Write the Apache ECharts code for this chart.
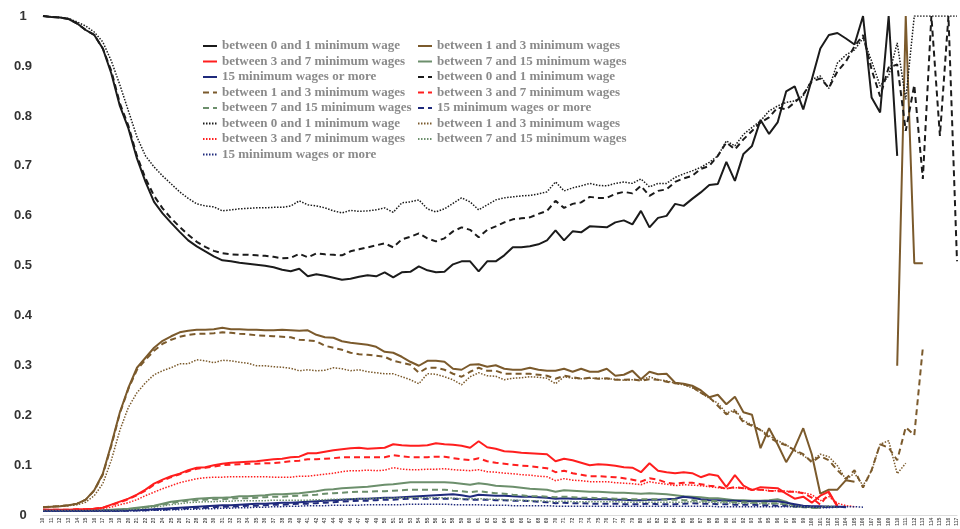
<!DOCTYPE html>
<html>
<head>
<meta charset="utf-8">
<title>Share of workers by wage bracket and age</title>
<script src="https://cdn.jsdelivr.net/npm/echarts@6/dist/echarts.min.js"></script>
<style>
  html, body { margin: 0; padding: 0; background: #fff; }
  #chart { width: 960px; height: 529px; }
</style>
</head>
<body>
<div id="chart"></div>
<script>
// ages on the category axis
const ages = ['10','11','12','13','14','15','16','17','18','19','20','21','22','23','24','25','26','27','28','29',
  '30','31','32','33','34','35','36','37','38','39','40','41','42','43','44','45','46','47','48','49',
  '50','51','52','53','54','55','56','57','58','59','60','61','62','63','64','65','66','67','68','69',
  '70','71','72','73','74','75','76','77','78','79','80','81','82','83','84','85','86','87','88','89',
  '90','91','92','93','94','95','96','97','98','99','100','101','102','103','104','105','106','107','108','109',
  '110','111','112','113','114','115','116','117'];

const yTicks = [0, 0.1, 0.2, 0.3, 0.4, 0.5, 0.6, 0.7, 0.8, 0.9, 1];

const bracketNames = ['between 0 and 1 minimum wage', 'between 1 and 3 minimum wages',
  'between 3 and 7 minimum wages', 'between 7 and 15 minimum wages', '15 minimum wages or more'];

// ---------- solid lines ----------
const solid0to1 = [1.0,0.998,0.997,0.994,0.985,0.972,0.962,0.935,0.885,0.82,
  0.775,0.715,0.668,0.628,0.605,0.586,0.568,0.551,0.539,0.529,
  0.519,0.511,0.509,0.506,0.504,0.502,0.5,0.497,0.492,0.489,
  0.494,0.479,0.483,0.48,0.476,0.472,0.474,0.478,0.481,0.479,
  0.487,0.477,0.487,0.488,0.499,0.491,0.487,0.488,0.503,0.509,
  0.509,0.489,0.509,0.509,0.521,0.537,0.537,0.539,0.543,0.551,
  0.571,0.551,0.569,0.567,0.579,0.578,0.577,0.587,0.591,0.583,
  0.610,0.577,0.596,0.600,0.624,0.620,0.634,0.647,0.662,0.664,
  0.708,0.670,0.724,0.740,0.792,0.764,0.787,0.849,0.859,0.813,
  0.873,0.935,0.962,0.966,0.955,0.943,1.0,0.837,0.807,1.0,
  0.72,null,null,null,null,null,null,null];
const solid1to3 = [0.017,0.018,0.019,0.021,0.024,0.032,0.051,0.084,0.143,0.207,
  0.256,0.296,0.316,0.336,0.350,0.359,0.367,0.370,0.372,0.372,
  0.373,0.376,0.373,0.373,0.372,0.372,0.371,0.371,0.372,0.371,
  0.370,0.371,0.362,0.357,0.356,0.349,0.346,0.344,0.342,0.338,
  0.328,0.326,0.318,0.308,0.300,0.310,0.310,0.308,0.294,0.292,
  0.302,0.303,0.298,0.301,0.294,0.292,0.292,0.296,0.292,0.290,
  0.290,0.294,0.288,0.294,0.288,0.288,0.294,0.280,0.282,0.290,
  0.273,0.288,0.283,0.284,0.266,0.264,0.260,0.251,0.237,0.242,
  0.223,0.238,0.207,0.202,0.135,0.175,0.143,0.107,0.136,0.175,
  0.123,0.044,0.052,0.052,0.071,0.068,null,null,null,null,
  0.30,1.0,0.505,0.505,null,null,null,null];
const solid3to7 = [0.012,0.012,0.012,0.012,0.013,0.013,0.014,0.016,0.022,0.028,
  0.034,0.042,0.052,0.064,0.072,0.079,0.084,0.091,0.096,0.097,
  0.101,0.104,0.106,0.107,0.108,0.109,0.111,0.113,0.114,0.117,
  0.118,0.125,0.125,0.128,0.131,0.133,0.135,0.136,0.134,0.135,
  0.136,0.143,0.141,0.140,0.140,0.141,0.145,0.143,0.142,0.140,
  0.136,0.149,0.137,0.134,0.129,0.128,0.126,0.125,0.124,0.123,
  0.109,0.114,0.111,0.106,0.101,0.103,0.102,0.100,0.097,0.096,
  0.087,0.105,0.090,0.087,0.085,0.087,0.085,0.077,0.083,0.080,
  0.057,0.081,0.060,0.051,0.057,0.056,0.055,0.044,0.034,0.038,
  0.026,0.040,0.048,0.018,null,null,null,null,null,null,
  null,null,null,null,null,null,null,null];
const solid7to15 = [0.010,0.010,0.010,0.010,0.010,0.010,0.011,0.011,0.012,0.013,
  0.014,0.016,0.018,0.020,0.024,0.028,0.030,0.032,0.034,0.035,
  0.036,0.036,0.037,0.039,0.039,0.040,0.041,0.043,0.043,0.044,
  0.045,0.047,0.049,0.052,0.053,0.055,0.056,0.057,0.058,0.060,
  0.062,0.063,0.065,0.067,0.067,0.067,0.067,0.067,0.066,0.064,
  0.062,0.065,0.063,0.060,0.059,0.058,0.056,0.054,0.053,0.052,
  0.048,0.051,0.050,0.049,0.048,0.048,0.047,0.046,0.046,0.045,
  0.044,0.045,0.044,0.043,0.041,0.039,0.038,0.037,0.035,0.035,
  0.033,0.031,0.031,0.030,0.030,0.031,0.033,0.028,0.019,0.018,
  0.017,0.016,null,null,null,null,null,null,null,null,
  null,null,null,null,null,null,null,null];
const solid15plus = [0.010,0.010,0.010,0.010,0.010,0.010,0.010,0.010,0.010,0.010,
  0.011,0.011,0.012,0.013,0.014,0.015,0.016,0.017,0.018,0.019,
  0.020,0.021,0.021,0.022,0.023,0.024,0.024,0.025,0.026,0.026,
  0.027,0.028,0.029,0.030,0.031,0.032,0.033,0.034,0.034,0.035,
  0.036,0.036,0.037,0.038,0.039,0.040,0.041,0.042,0.043,0.041,
  0.038,0.042,0.041,0.040,0.040,0.039,0.038,0.038,0.037,0.036,
  0.034,0.035,0.034,0.034,0.033,0.033,0.033,0.032,0.032,0.031,
  0.031,0.032,0.032,0.033,0.034,0.038,0.036,0.033,0.031,0.031,
  0.030,0.030,0.029,0.029,0.029,0.029,0.029,0.026,0.023,0.020,
  0.019,0.019,0.018,0.018,0.018,null,null,null,null,null,
  null,null,null,null,null,null,null,null];

// ---------- dashed lines ----------
const dashed0to1 = [1.0,0.998,0.997,0.994,0.985,0.972,0.962,0.935,0.89,0.825,
  0.78,0.72,0.675,0.64,0.615,0.595,0.578,0.562,0.548,0.538,
  0.53,0.525,0.523,0.522,0.522,0.521,0.52,0.518,0.515,0.516,
  0.524,0.517,0.525,0.523,0.522,0.521,0.529,0.533,0.537,0.541,
  0.545,0.537,0.553,0.558,0.565,0.555,0.549,0.555,0.569,0.577,
  0.572,0.557,0.572,0.579,0.587,0.593,0.595,0.597,0.604,0.610,
  0.630,0.616,0.624,0.627,0.638,0.636,0.636,0.644,0.648,0.645,
  0.660,0.640,0.650,0.653,0.668,0.675,0.680,0.694,0.700,0.720,
  0.747,0.733,0.753,0.770,0.787,0.797,0.817,0.813,0.827,0.843,
  0.869,0.875,0.856,0.889,0.909,0.939,0.962,0.893,0.839,0.897,
  0.903,0.770,0.862,0.674,1.0,0.760,1.0,0.509];
const dashed1to3 = [0.017,0.018,0.019,0.021,0.024,0.032,0.050,0.082,0.140,0.205,
  0.254,0.292,0.312,0.330,0.344,0.352,0.358,0.362,0.364,0.364,
  0.365,0.367,0.366,0.364,0.363,0.361,0.360,0.359,0.358,0.357,
  0.352,0.351,0.349,0.340,0.336,0.332,0.326,0.323,0.322,0.320,
  0.318,0.310,0.306,0.302,0.286,0.296,0.296,0.292,0.284,0.278,
  0.288,0.296,0.290,0.290,0.284,0.284,0.284,0.284,0.282,0.280,
  0.274,0.280,0.277,0.274,0.276,0.274,0.275,0.272,0.272,0.273,
  0.270,0.273,0.272,0.268,0.265,0.263,0.258,0.246,0.237,0.220,
  0.203,0.209,0.187,0.180,0.171,0.157,0.147,0.141,0.131,0.123,
  0.107,0.119,0.111,0.091,0.074,0.091,0.056,0.091,0.143,0.136,
  0.111,0.177,0.161,0.336,null,null,null,null];
const dashed3to7 = [0.012,0.012,0.012,0.012,0.013,0.013,0.014,0.016,0.021,0.027,
  0.033,0.041,0.050,0.062,0.070,0.077,0.083,0.089,0.094,0.096,
  0.098,0.101,0.102,0.103,0.104,0.104,0.105,0.105,0.107,0.109,
  0.110,0.113,0.113,0.114,0.115,0.117,0.117,0.117,0.117,0.117,
  0.117,0.121,0.119,0.117,0.117,0.117,0.118,0.118,0.115,0.113,
  0.111,0.115,0.109,0.106,0.104,0.102,0.100,0.099,0.097,0.095,
  0.087,0.090,0.085,0.082,0.079,0.079,0.078,0.077,0.075,0.072,
  0.068,0.075,0.072,0.066,0.064,0.066,0.066,0.063,0.060,0.058,
  0.054,0.057,0.055,0.052,0.052,0.050,0.049,0.048,0.048,0.045,
  0.036,0.022,0.045,0.020,null,null,null,null,null,null,
  null,null,null,null,null,null,null,null];
const dashed7to15 = [0.010,0.010,0.010,0.010,0.010,0.010,0.010,0.011,0.011,0.012,
  0.013,0.015,0.017,0.019,0.022,0.025,0.028,0.030,0.031,0.032,
  0.033,0.033,0.034,0.035,0.035,0.036,0.037,0.038,0.038,0.039,
  0.040,0.041,0.042,0.044,0.045,0.046,0.047,0.048,0.048,0.049,
  0.049,0.050,0.051,0.052,0.052,0.052,0.052,0.052,0.050,0.049,
  0.047,0.049,0.047,0.045,0.044,0.042,0.041,0.039,0.039,0.038,
  0.037,0.038,0.037,0.036,0.036,0.035,0.035,0.034,0.034,0.033,
  0.033,0.033,0.033,0.032,0.032,0.031,0.031,0.030,0.030,0.029,
  0.028,0.027,0.027,0.026,0.026,0.025,0.025,0.022,0.018,0.017,
  0.016,0.015,null,null,null,null,null,null,null,null,
  null,null,null,null,null,null,null,null];
const dashed15plus = [0.010,0.010,0.010,0.010,0.010,0.010,0.010,0.010,0.010,0.010,
  0.010,0.011,0.011,0.012,0.012,0.013,0.014,0.015,0.016,0.016,
  0.017,0.018,0.018,0.019,0.020,0.020,0.021,0.022,0.022,0.023,
  0.024,0.024,0.025,0.026,0.027,0.028,0.029,0.030,0.030,0.031,
  0.032,0.032,0.033,0.034,0.034,0.034,0.034,0.034,0.034,0.033,
  0.032,0.032,0.032,0.031,0.031,0.030,0.030,0.029,0.028,0.027,
  0.025,0.026,0.025,0.025,0.024,0.024,0.024,0.024,0.023,0.023,
  0.023,0.024,0.023,0.023,0.023,0.024,0.025,0.024,0.024,0.023,
  0.023,0.022,0.022,0.022,0.021,0.021,0.020,0.020,0.019,0.018,
  0.018,0.017,0.018,0.018,0.017,null,null,null,null,null,
  null,null,null,null,null,null,null,null];

// ---------- dotted lines ----------
const dotted0to1 = [1.0,0.998,0.997,0.995,0.988,0.980,0.968,0.948,0.910,0.862,
  0.810,0.758,0.720,0.698,0.680,0.664,0.648,0.635,0.624,0.620,
  0.618,0.610,0.612,0.614,0.615,0.616,0.616,0.617,0.617,0.620,
  0.630,0.622,0.620,0.616,0.610,0.606,0.611,0.609,0.610,0.612,
  0.616,0.607,0.626,0.628,0.632,0.614,0.608,0.614,0.625,0.636,
  0.628,0.612,0.622,0.632,0.636,0.638,0.640,0.641,0.644,0.648,
  0.668,0.650,0.656,0.660,0.665,0.661,0.660,0.665,0.668,0.665,
  0.674,0.658,0.665,0.665,0.677,0.684,0.690,0.697,0.707,0.720,
  0.750,0.740,0.763,0.777,0.790,0.810,0.820,0.827,0.830,0.840,
  0.873,0.880,0.855,0.906,0.922,0.932,0.956,0.910,0.860,0.880,
  0.946,0.833,1.0,1.0,1.0,1.0,1.0,1.0];
const dotted1to3 = [0.017,0.018,0.019,0.020,0.022,0.027,0.040,0.064,0.111,0.171,
  0.217,0.246,0.266,0.282,0.290,0.296,0.304,0.304,0.312,0.310,
  0.306,0.311,0.310,0.307,0.305,0.300,0.300,0.298,0.297,0.295,
  0.290,0.292,0.290,0.291,0.296,0.294,0.290,0.292,0.288,0.286,
  0.284,0.284,0.278,0.272,0.264,0.284,0.283,0.278,0.272,0.262,
  0.278,0.286,0.280,0.279,0.272,0.275,0.276,0.278,0.277,0.275,
  0.264,0.278,0.275,0.274,0.275,0.275,0.274,0.273,0.271,0.272,
  0.271,0.278,0.272,0.270,0.265,0.262,0.256,0.246,0.235,0.225,
  0.205,0.212,0.190,0.182,0.172,0.160,0.150,0.142,0.130,0.120,
  0.110,0.123,0.118,0.100,0.072,0.085,0.060,0.090,0.143,0.150,
  0.084,0.105,null,null,null,null,null,null];
const dotted3to7 = [0.011,0.011,0.011,0.011,0.012,0.012,0.013,0.014,0.017,0.022,
  0.026,0.032,0.040,0.047,0.054,0.060,0.066,0.070,0.074,0.076,
  0.077,0.077,0.078,0.078,0.078,0.078,0.078,0.077,0.077,0.077,
  0.079,0.079,0.081,0.083,0.085,0.088,0.090,0.090,0.091,0.090,
  0.091,0.096,0.093,0.092,0.092,0.093,0.093,0.094,0.092,0.091,
  0.090,0.092,0.088,0.087,0.085,0.084,0.082,0.081,0.079,0.078,
  0.070,0.074,0.071,0.070,0.068,0.068,0.068,0.066,0.065,0.064,
  0.062,0.068,0.065,0.063,0.060,0.062,0.061,0.060,0.058,0.056,
  0.054,0.056,0.055,0.052,0.052,0.050,0.050,0.049,0.048,0.046,
  0.042,0.030,0.038,0.025,0.020,0.018,null,null,null,null,
  null,null,null,null,null,null,null,null];
const dotted7to15 = [0.010,0.010,0.010,0.010,0.010,0.010,0.010,0.010,0.010,0.010,
  0.012,0.013,0.015,0.017,0.019,0.022,0.024,0.026,0.027,0.028,
  0.028,0.029,0.029,0.030,0.030,0.030,0.030,0.031,0.031,0.031,
  0.031,0.031,0.032,0.032,0.033,0.033,0.034,0.034,0.034,0.035,
  0.035,0.035,0.036,0.036,0.036,0.036,0.036,0.036,0.035,0.034,
  0.034,0.034,0.033,0.033,0.032,0.031,0.031,0.030,0.030,0.029,
  0.028,0.029,0.028,0.028,0.028,0.028,0.028,0.028,0.027,0.027,
  0.027,0.027,0.027,0.027,0.027,0.027,0.028,0.027,0.027,0.026,
  0.026,0.025,0.025,0.025,0.024,0.024,0.024,0.022,0.019,0.018,
  0.017,0.016,0.020,0.016,null,null,null,null,null,null,
  null,null,null,null,null,null,null,null];
const dotted15plus = [0.009,0.009,0.009,0.009,0.009,0.009,0.009,0.009,0.009,0.009,
  0.010,0.010,0.010,0.011,0.011,0.012,0.012,0.013,0.013,0.014,
  0.014,0.015,0.015,0.016,0.016,0.017,0.017,0.018,0.018,0.019,
  0.019,0.020,0.020,0.020,0.021,0.021,0.021,0.021,0.022,0.022,
  0.022,0.022,0.022,0.023,0.023,0.023,0.023,0.023,0.022,0.022,
  0.022,0.022,0.021,0.021,0.021,0.020,0.020,0.020,0.020,0.020,
  0.019,0.019,0.019,0.019,0.019,0.019,0.019,0.019,0.019,0.019,
  0.019,0.019,0.019,0.019,0.019,0.019,0.019,0.019,0.019,0.018,
  0.018,0.018,0.018,0.018,0.018,0.018,0.018,0.018,0.018,0.018,
  0.017,0.016,0.016,0.017,0.018,0.018,0.017,null,null,null,
  null,null,null,null,null,null,null,null];

const colorArr = ['#1b1b1b', '#7b5a2c', '#ff1e1e', '#6c8f6c', '#1f2a7c'];
const solidData = [solid0to1, solid1to3, solid3to7, solid7to15, solid15plus];
const dashedData = [dashed0to1, dashed1to3, dashed3to7, dashed7to15, dashed15plus];
const dottedData = [dotted0to1, dotted1to3, dotted3to7, dotted7to15, dotted15plus];

// series names must be unique for the legend, so a prefix is added and cut off again in the formatter
let seriesList = [];
let seriesKeys = [];
const groups = [
  { key: 'solid', list: solidData, type: 'solid', width: 2 },
  { key: 'dashed', list: dashedData, type: [6, 4], width: 2 },
  { key: 'dotted', list: dottedData, type: [1.5, 1.5], width: 1.5 }
];
groups.forEach(g => {
  g.list.forEach((arr, i) => {
    const name = g.key + '|' + bracketNames[i];
    seriesKeys.push(name);
    seriesList.push({
      name: name,
      type: 'line',
      data: arr,
      showSymbol: false,
      symbol: 'none',
      connectNulls: false,
      animation: false,
      itemStyle: { color: colorArr[i] },
      lineStyle: { color: colorArr[i], width: g.width, type: g.type }
    });
  });
});
// legend is laid out in two columns, filled row by row
const leftCol = seriesKeys.filter((k, i) => i % 2 === 0);
const rightCol = seriesKeys.filter((k, i) => i % 2 === 1);

const legendBase = {
  orient: 'vertical',
  top: 34,
  itemWidth: 14,
  itemHeight: 14,
  itemGap: 1.5,
  // hide the round marker that line series put in the middle of the legend icon
  itemStyle: { opacity: 0 },
  formatter: function (name) { return name.split('|')[1]; },
  textStyle: {
    color: '#8a8a8a',
    fontFamily: 'Liberation Serif',
    fontWeight: 'bold',
    fontSize: 13,
    lineHeight: 14
  }
};

const myChart = echarts.init(document.getElementById('chart'));
const option = {
  backgroundColor: '#fff',
  animation: false,
  grid: { left: 43, right: 3, top: 16, bottom: 10, containLabel: false },
  legend: [
    Object.assign({}, legendBase, { left: 197, data: leftCol }),
    Object.assign({}, legendBase, { left: 412, data: rightCol })
  ],
  xAxis: {
    type: 'category',
    data: ages,
    boundaryGap: false,
    axisLine: { show: true, lineStyle: { color: '#dcdcdc' } },
    axisTick: { show: false },
    axisLabel: {
      interval: 0,
      rotate: 90,
      fontSize: 5,
      margin: 2,
      color: '#555',
      fontFamily: 'Liberation Sans',
      fontWeight: 'bold'
    },
    splitLine: { show: false }
  },
  yAxis: {
    type: 'value',
    min: yTicks[0],
    max: yTicks[yTicks.length - 1],
    interval: 0.1,
    axisLine: { show: false },
    axisTick: { show: false },
    splitLine: { show: false },
    axisLabel: {
      margin: 20,
      align: 'center',
      color: '#333',
      fontSize: 13,
      fontWeight: 'bold',
      fontFamily: 'Liberation Sans'
    }
  },
  series: seriesList
};
myChart.setOption(option);
</script>
</body>
</html>
